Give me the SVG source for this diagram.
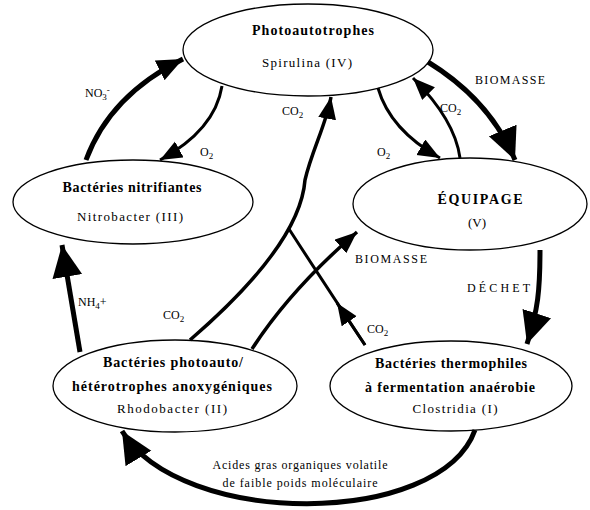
<svg xmlns="http://www.w3.org/2000/svg" width="590" height="510" viewBox="0 0 590 510">
<style>
.node ellipse{fill:#fff;stroke:#000;stroke-width:1.3}
text{font-family:"Liberation Serif","Times New Roman",serif;fill:#000}
.t{font-size:14px;font-weight:bold;text-anchor:middle}
.s{font-size:13px;text-anchor:middle}
.l{font-size:12px}
.c path{fill:none;stroke:#000}
.k{stroke-width:5}
.m{stroke-width:3.5}
.n{stroke-width:3}
</style>
<defs>
<marker id="big" markerUnits="userSpaceOnUse" markerWidth="34" markerHeight="32" refX="32" refY="15" orient="auto"><path d="M0,0 L32,15 L0,30 z" fill="#000"/></marker>
<marker id="med" markerUnits="userSpaceOnUse" markerWidth="28" markerHeight="24" refX="26" refY="11" orient="auto"><path d="M0,0 L26,11 L0,22 z" fill="#000"/></marker>
<marker id="sm" markerUnits="userSpaceOnUse" markerWidth="24" markerHeight="20" refX="22" refY="9" orient="auto"><path d="M0,0 L22,9 L0,18 z" fill="#000"/></marker>
</defs>
<rect width="590" height="510" fill="#fff"/>
<g id="n-photo" class="node"><ellipse cx="308" cy="50" rx="125" ry="46"/>
<text class="t" x="313" y="35" textLength="122">Photoautotrophes</text>
<text class="s" x="307" y="67" textLength="90">Spirulina (IV)</text></g>
<g id="n-nitri" class="node"><ellipse cx="133" cy="202" rx="120" ry="42"/>
<text class="t" x="132" y="192" textLength="139">Bactéries nitrifiantes</text>
<text class="s" x="130" y="221" textLength="106">Nitrobacter (III)</text></g>
<g id="n-equip" class="node"><ellipse cx="470" cy="204" rx="117" ry="46"/>
<text class="t" x="480" y="204" textLength="85">ÉQUIPAGE</text>
<text class="s" x="477" y="227">(V)</text></g>
<g id="n-rhodo" class="node"><ellipse cx="175" cy="386" rx="122" ry="46"/>
<text class="t" x="173" y="367" textLength="140">Bactéries photoauto/</text>
<text class="t" x="172" y="391" textLength="200">hétérotrophes anoxygéniques</text>
<text class="s" x="172" y="413" textLength="110">Rhodobacter (II)</text></g>
<g id="n-thermo" class="node"><ellipse cx="451" cy="386" rx="121" ry="45"/>
<text class="t" x="451" y="368" textLength="152">Bactéries thermophiles</text>
<text class="t" x="450" y="392" textLength="170">à fermentation anaérobie</text>
<text class="s" x="455" y="413" textLength="85">Clostridia (I)</text></g>
<g id="connectors" class="c">
<path class="k" d="M86,160 Q110,95 183,59" marker-end="url(#med)"/>
<path class="n" d="M222,86 Q215,130 160,160" marker-end="url(#sm)"/>
<path class="m" d="M190,340 Q300,245 305,180 C312,150 326,125 331,97" marker-end="url(#sm)"/>
<path class="n" d="M365,345 Q322,280 289,229"/>
<path class="n" d="M365,345 L337,303" marker-end="url(#sm)"/>
<path class="m" d="M252,349 Q290,290 357,232" marker-end="url(#sm)"/>
<path class="n" d="M378,88 Q390,130 440,158" marker-end="url(#sm)"/>
<path class="n" d="M460,158 Q455,120 413,78" marker-end="url(#sm)"/>
<path class="k" d="M428,62 Q490,100 515,160" marker-end="url(#big)"/>
<path class="k" d="M540,250 C540,290 538,310 527,344" marker-end="url(#big)"/>
<path class="k" d="M475,430 C440,528 180,528 122,431" marker-end="url(#big)"/>
<path class="k" d="M80,352 L62,245" marker-end="url(#big)"/>
</g>
<g id="labels">
<text class="l" x="85" y="97">NO<tspan font-size="9" dy="3">3</tspan><tspan font-size="9" dy="-7">-</tspan></text>
<text class="l" x="200" y="156">O<tspan font-size="9" dy="3">2</tspan></text>
<text class="l" x="282" y="115">CO<tspan font-size="9" dy="3">2</tspan></text>
<text class="l" x="475" y="84" font-size="11" textLength="70">BIOMASSE</text>
<text class="l" x="440" y="112">CO<tspan font-size="9" dy="3">2</tspan></text>
<text class="l" x="377" y="156">O<tspan font-size="9" dy="3">2</tspan></text>
<text class="l" x="355" y="263" font-size="11" textLength="72">BIOMASSE</text>
<text class="l" x="467" y="292" font-size="11" textLength="63">DÉCHET</text>
<text class="l" x="367" y="333">CO<tspan font-size="9" dy="3">2</tspan></text>
<text class="l" x="163" y="319">CO<tspan font-size="9" dy="3">2</tspan></text>
<text class="l" x="78" y="306">NH<tspan font-size="9" dy="3">4</tspan><tspan dy="-3">+</tspan></text>
<text class="l" x="300" y="469" text-anchor="middle" font-size="11" textLength="175">Acides gras organiques volatile</text>
<text class="l" x="300" y="487" text-anchor="middle" font-size="11" textLength="155">de faible poids moléculaire</text>
</g>
</svg>
